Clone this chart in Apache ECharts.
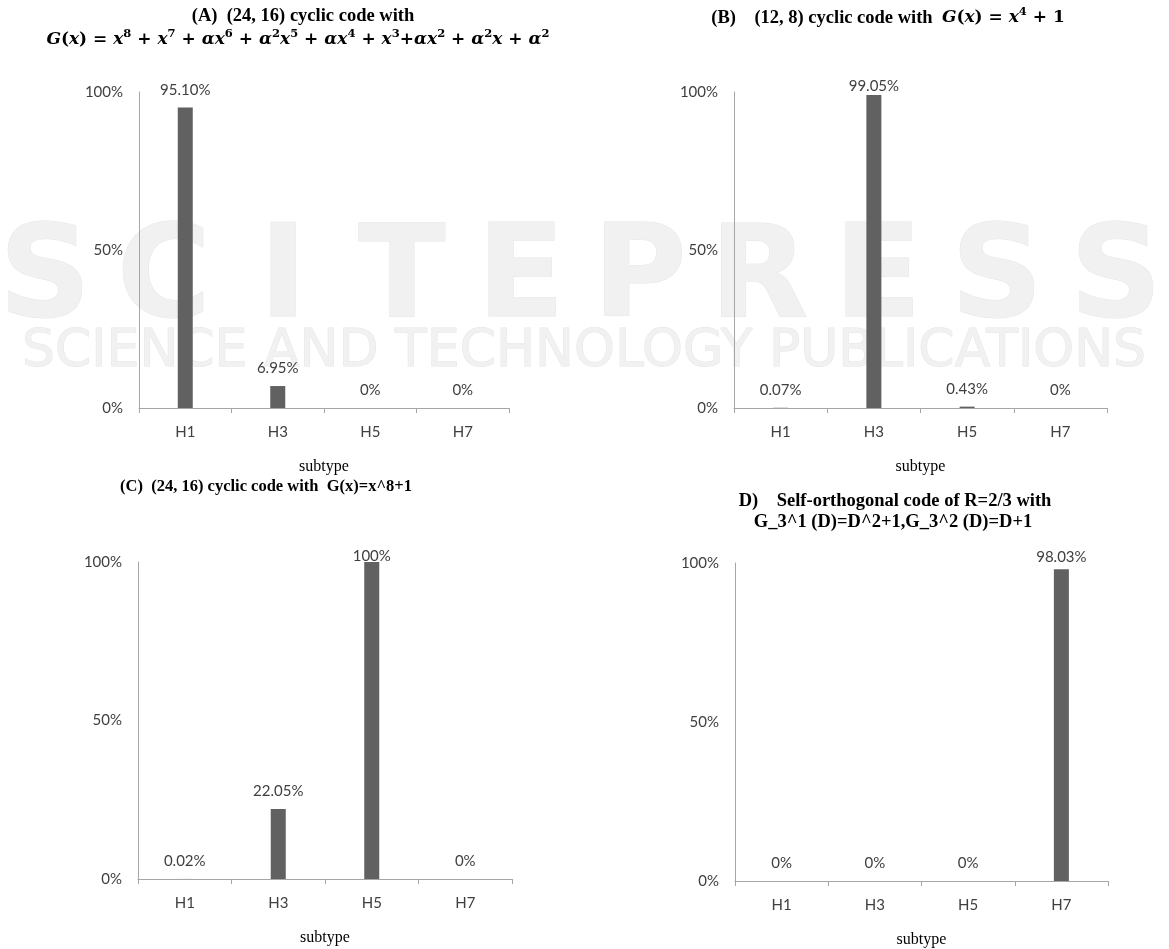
<!DOCTYPE html>
<html>
<head>
<meta charset="utf-8">
<script src="https://cdn.jsdelivr.net/npm/echarts@6/dist/echarts.min.js"></script>
<style>html,body{margin:0;padding:0;background:#fff;}#chart{width:1169px;height:949px;}</style>
</head>
<body>
<div id="chart"></div>
<script>
const categories = ['H1', 'H3', 'H5', 'H7'];
const valuesA = [95.10, 6.95, 0, 0];
const valuesB = [0.07, 99.05, 0.43, 0];
const valuesC = [0.02, 22.05, 100, 0];
const valuesD = [0, 0, 0, 98.03];
const yTickLabels = ['0%', '50%', '100%'];
const axisName = 'subtype';

const chart = echarts.init(document.getElementById('chart'));

const SANS = 'Lato';
const SERIF = '"Liberation Serif", "Times New Roman", serif';
const MATH = '"DejaVu Serif", serif';
const BAR = '#616161';
const AXIS = '#a6a6a6';
const TXT = '#404040';

const grids = [
  {left: 139, top: 92, width: 370, height: 316},
  {left: 734, top: 92, width: 373, height: 316},
  {left: 138, top: 562, width: 374, height: 317},
  {left: 735, top: 563, width: 373, height: 318}
];
const allValues = [valuesA, valuesB, valuesC, valuesD];

function fmt(v) {
  if (v === 0) return '0%';
  if (v === 100) return '100%';
  return v.toFixed(2) + '%';
}

const xAxes = grids.map((g, i) => ({
  type: 'category', gridIndex: i, data: categories,
  axisLine: {lineStyle: {color: AXIS, width: 1}},
  axisTick: {show: true, length: 5, lineStyle: {color: AXIS}},
  axisLabel: {color: TXT, fontFamily: SANS, fontSize: 15, margin: 17},
  name: axisName, nameLocation: 'middle', nameGap: 51,
  nameTextStyle: {color: '#000', fontFamily: SERIF, fontSize: 16}
}));
const yAxes = grids.map((g, i) => ({
  type: 'value', gridIndex: i, min: 0, max: 100, interval: 50,
  axisLine: {show: true, lineStyle: {color: AXIS, width: 1}},
  axisTick: {show: false}, splitLine: {show: false},
  axisLabel: {color: TXT, fontFamily: SANS, fontSize: 15, margin: 16,
    formatter: (v) => yTickLabels[v / 50]}
}));
const series = allValues.map((vals, i) => ({
  type: 'bar', xAxisIndex: i, yAxisIndex: i, barWidth: 15,
  itemStyle: {color: BAR},
  label: {show: true, position: 'top', color: TXT, fontFamily: SANS, fontSize: 15,
    formatter: (p) => fmt(p.value)},
  data: vals.map(v => ({value: v,
    label: {distance: Math.min(10, (100 - v) * grids[i].height / 100 - 2)}}))
}));

// Titles
const B = {fontFamily: SERIF, fontWeight: 'bold', fontSize: 18.5, fill: '#000'};
const rich = {
  t: {fontFamily: SERIF, fontWeight: 'bold', fontSize: 18.5, color: '#000', lineHeight: 24, verticalAlign: 'middle'},
  n: {fontFamily: MATH, fontWeight: 'bold', fontSize: 17, color: '#000', lineHeight: 24, verticalAlign: 'middle'},
  i: {fontFamily: MATH, fontWeight: 'bold', fontStyle: 'italic', fontSize: 17, color: '#000', lineHeight: 24, verticalAlign: 'middle'},
  s: {fontFamily: MATH, fontWeight: 'bold', fontSize: 11.5, color: '#000', lineHeight: 14, verticalAlign: 'top'}
};
const titleA2 = '{i|G}{n|(}{i|x}{n|) = }{i|x}{s|8}{n| + }{i|x}{s|7}{n| + }{i|αx}{s|6}{n| + }{i|α}{s|2}{i|x}{s|5}{n| + }{i|αx}{s|4}{n| + }{i|x}{s|3}{n|+}{i|αx}{s|2}{n| + }{i|α}{s|2}{i|x}{n| + }{i|α}{s|2}';
const titleB = '{t|(B)    (12, 8) cyclic code with  }{i|G}{n|(}{i|x}{n|) = }{i|x}{s|4}{n| + 1}';

const graphics = [];
'SCITEPRESS'.split('').forEach((ch, k) => {
  graphics.push({type: 'text', z: -10, silent: true,
    style: {text: ch, x: 45 + k * 119, y: 283, textAlign: 'center', textVerticalAlign: 'middle',
      fontFamily: '"DejaVu Sans"', fontWeight: 'bold', fontSize: 128, fill: '#f1f1f1', stroke: '#e6e6e6', lineWidth: 1}});
});
graphics.push({type: 'text', z: -10, silent: true,
  style: {text: 'SCIENCE AND TECHNOLOGY PUBLICATIONS', x: 584, y: 352, textAlign: 'center', textVerticalAlign: 'middle',
    fontFamily: '"DejaVu Sans"', fontSize: 52, fill: '#f1f1f1', stroke: '#e6e6e6', lineWidth: 1}});

graphics.push({type: 'text', z: 10, style: Object.assign({text: '(A)  (24, 16) cyclic code with', x: 303, y: 16, textAlign: 'center', textVerticalAlign: 'middle'}, B)});
graphics.push({type: 'text', z: 10, style: {text: titleA2, x: 298, y: 40, textAlign: 'center', textVerticalAlign: 'middle', rich: rich}});
graphics.push({type: 'text', z: 10, style: {text: titleB, x: 888, y: 18, textAlign: 'center', textVerticalAlign: 'middle', rich: rich}});
graphics.push({type: 'text', z: 10, style: Object.assign({}, B, {text: '(C)  (24, 16) cyclic code with  G(x)=x^8+1', x: 266, y: 487, textAlign: 'center', textVerticalAlign: 'middle', fontSize: 16.5})});
graphics.push({type: 'text', z: 10, style: Object.assign({text: 'D)    Self-orthogonal code of R=2/3 with', x: 895, y: 501, textAlign: 'center', textVerticalAlign: 'middle'}, B)});
graphics.push({type: 'text', z: 10, style: Object.assign({text: 'G_3^1 (D)=D^2+1,G_3^2 (D)=D+1', x: 893, y: 522, textAlign: 'center', textVerticalAlign: 'middle'}, B)});

chart.setOption({
  animation: false,
  backgroundColor: '#fff',
  grid: grids,
  xAxis: xAxes,
  yAxis: yAxes,
  series: series,
  graphic: graphics
});
</script>
</body>
</html>
